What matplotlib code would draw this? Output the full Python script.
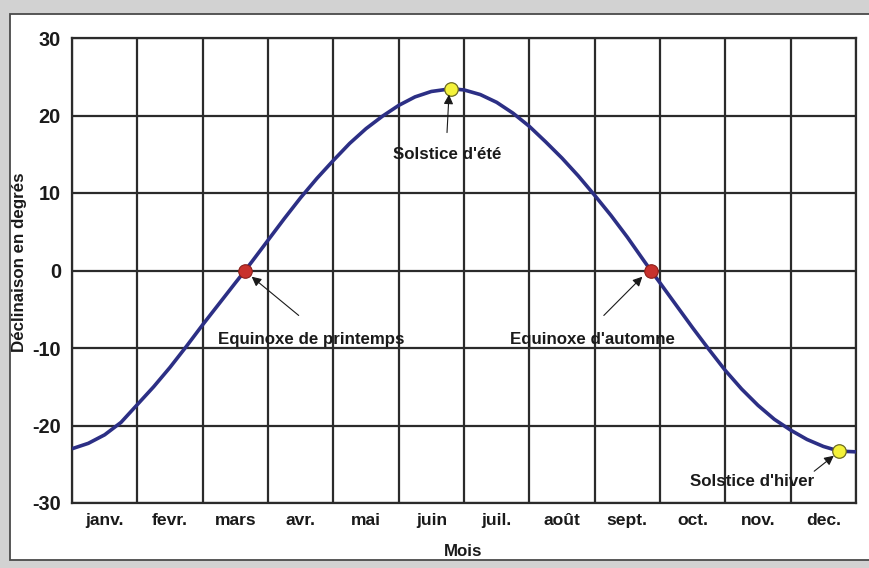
import matplotlib
matplotlib.use('Agg')
import matplotlib.pyplot as plt
from matplotlib import font_manager
from matplotlib.patches import Rectangle

# declinaison du soleil (x en mois depuis le 1er janvier)
curve_x = [0.0, 0.25, 0.5, 0.75, 1.0, 1.25, 1.5, 1.75, 2.0, 2.25, 2.5, 2.65, 2.75,
           3.0, 3.25, 3.5, 3.75, 4.0, 4.25, 4.5, 4.75, 5.0, 5.25, 5.5, 5.8, 6.0,
           6.25, 6.5, 6.75, 7.0, 7.25, 7.5, 7.75, 8.0, 8.25, 8.5, 8.75, 8.86, 9.0,
           9.25, 9.5, 9.75, 10.0, 10.25, 10.5, 10.75, 11.0, 11.25, 11.5, 11.74, 12.0]
curve_y = [-23.0, -22.3, -21.2, -19.6, -17.3, -15.0, -12.5, -9.8, -7.0, -4.3, -1.6, 0.0, 1.1,
           3.9, 6.7, 9.4, 11.9, 14.2, 16.4, 18.3, 19.9, 21.3, 22.4, 23.1, 23.45, 23.3,
           22.7, 21.7, 20.3, 18.6, 16.6, 14.5, 12.2, 9.7, 7.1, 4.3, 1.3, 0.0, -1.6,
           -4.5, -7.4, -10.2, -12.9, -15.3, -17.4, -19.2, -20.6, -21.8, -22.7, -23.3, -23.4]

months = ['janv.', 'fevr.', 'mars', 'avr.', 'mai', 'juin', 'juil.',
          'août', 'sept.', 'oct.', 'nov.', 'dec.']
yticks = [-30, -20, -10, 0, 10, 20, 30]

# equinoxes (rouge) et solstices (jaune)
equinox_x = [2.65, 8.86]
equinox_y = [0.0, 0.0]
solstice_x = [5.8, 11.74]
solstice_y = [23.45, -23.3]

# texte, position du texte, debut et fin de la fleche
notes = [
    ("Solstice d'été", (5.74, 15.0), (5.74, 17.8), (5.77, 22.7)),
    ("Equinoxe de printemps", (3.66, -8.9), (3.47, -5.8), (2.75, -0.8)),
    ("Equinoxe d'automne", (7.97, -8.9), (8.14, -5.8), (8.73, -0.8)),
    ("Solstice d'hiver", (10.41, -27.2), (11.36, -25.9), (11.66, -23.9)),
]

# police etroite si dispo, sinon une police plus compacte en plus petit
installed = {f.name for f in font_manager.fontManager.ttflist}
if 'Liberation Sans Narrow' in installed:
    FONT, k = ['Liberation Sans Narrow', 'DejaVu Sans'], 1.0
else:
    FONT, k = ['Liberation Sans', 'DejaVu Sans'], 0.84
INK = '#1a1a1a'
GRID = '#2b2b2b'

fig = plt.figure(figsize=(8.69, 5.68), dpi=100)
fig.patch.set_facecolor('#d2d2d2')
fig.patches.append(Rectangle((10/869, 8/568), 1.0, 546/568, transform=fig.transFigure,
                             facecolor='white', edgecolor='#4a4a4a', lw=1.3, zorder=-5))

ax = fig.add_axes((72/869, 65/568, 784/869, 465/568))
ax.set_zorder(2)
ax.set_xlim(0, 12)
ax.set_ylim(-30, 30)

# grille : traits aux mois entiers, etiquettes au milieu
ax.set_xticks(range(13))
ax.set_xticks([i + 0.5 for i in range(12)], minor=True)
ax.set_xticklabels([])
ax.set_xticklabels(months, minor=True, fontsize=15*k, fontweight='bold',
                   family=FONT, color=INK)
ax.set_yticks(yticks)
ax.set_yticklabels([str(v) for v in yticks], fontsize=17*k, fontweight='bold',
                   family=FONT, color=INK)
ax.tick_params(axis='both', which='both', length=0)
ax.tick_params(axis='x', which='minor', pad=7)
ax.tick_params(axis='y', pad=8)
ax.grid(True, which='major', color=GRID, lw=1.6)
for s in ax.spines.values():
    s.set_color(GRID)
    s.set_linewidth(1.6)

ax.plot(curve_x, curve_y, color='#2c2f85', lw=2.6, zorder=3, solid_capstyle='butt')
ax.scatter(equinox_x, equinox_y, s=95, color='#c8312d', edgecolor='#8a1f1a',
           lw=0.8, zorder=4)
ax.scatter(solstice_x, solstice_y, s=95, color='#f4f23a', edgecolor='#6b6a20',
           lw=0.9, zorder=4)

for label, txt_xy, tail, head in notes:
    ax.text(txt_xy[0], txt_xy[1], label, ha='center', va='center', fontsize=14.5*k,
            fontweight='bold', family=FONT, color=INK, zorder=5)
    ax.annotate('', xy=head, xytext=tail,
                arrowprops=dict(arrowstyle='-|>', color=INK, lw=0.8,
                                mutation_scale=14, shrinkA=0, shrinkB=0), zorder=5)

fig.text(20/869, 1 - 262/568, 'Déclinaison en degrés', rotation=90, ha='center',
         va='center', fontsize=14.5*k, fontweight='bold', family=FONT, color=INK)
fig.text(463/869, 1 - 552/568, 'Mois', ha='center', va='center',
         fontsize=14.5*k, fontweight='bold', family=FONT, color=INK)

fig.savefig('out.png', dpi=100, facecolor=fig.get_facecolor())
